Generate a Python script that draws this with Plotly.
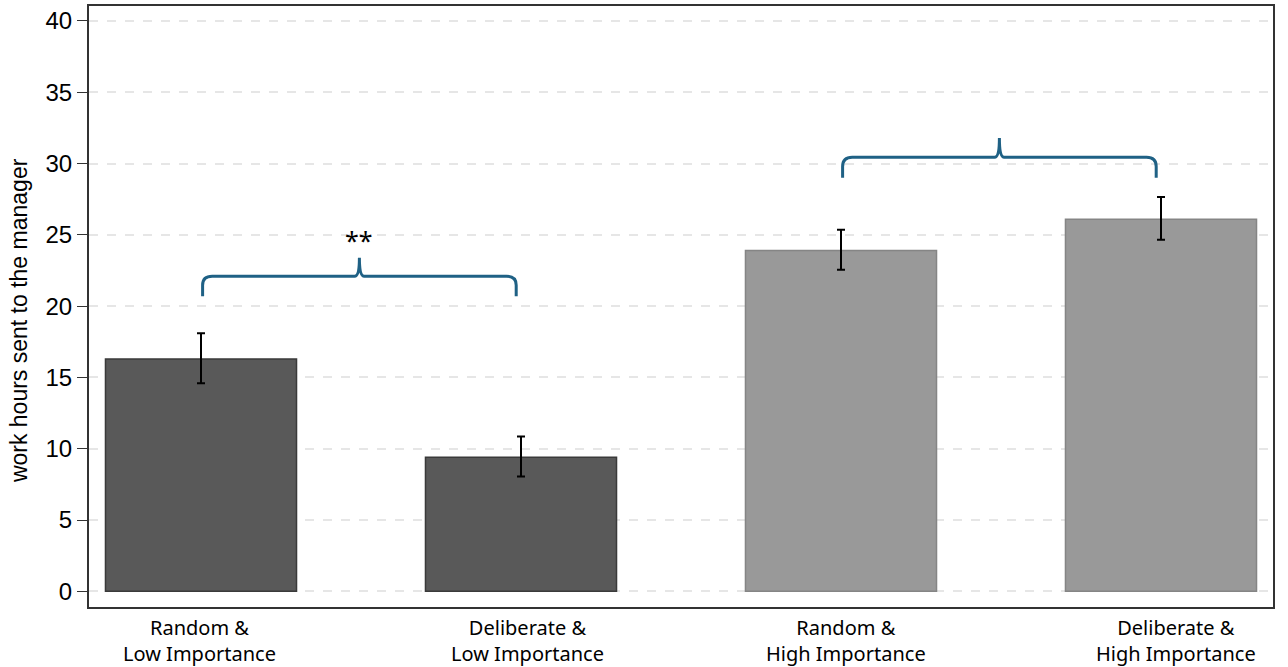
import plotly.graph_objects as go

categories = ["Random &<br>Low Importance", "Deliberate &<br>Low Importance",
              "Random &<br>High Importance", "Deliberate &<br>High Importance"]
means = [16.3, 9.4, 23.9, 26.1]
err_plus = [1.8, 1.45, 1.45, 1.55]
err_minus = [1.7, 1.35, 1.35, 1.45]
bar_colors = ["#595959", "#595959", "#999999", "#999999"]
line_colors = ["#3a3a3a", "#3a3a3a", "#858585", "#858585"]
label_shift_px = [-2, 6, 5, 15]
y_title = "work hours sent to the manager"

# brace annotations: (left category, right category, end level, bar level, tip level, label)
braces = [
    (0, 1, 20.7, 22.1, 23.4, "**"),
    (2, 3, 29.0, 30.45, 31.8, ""),
]
brace_color = "#1f6185"

xs = list(range(len(categories)))

fig = go.Figure()
fig.add_trace(go.Bar(
    x=xs, y=means, width=0.597,
    marker=dict(color=bar_colors, line=dict(color=line_colors, width=1.5)),
    error_y=dict(type="data", symmetric=False, array=err_plus, arrayminus=err_minus,
                 color="black", thickness=2, width=4),
    showlegend=False,
))

shapes = []
annotations = []
for (a, b, y_end, y_bar, y_tip, lab) in braces:
    x0, x1 = a + 0.005, b - 0.015
    xm = (x0 + x1) / 2
    dx = 0.03
    dy = (y_bar - y_end) * 0.45
    path = (f"M {x0},{y_end} L {x0},{y_bar - dy} Q {x0},{y_bar} {x0 + dx},{y_bar} "
            f"L {xm - dx * 0.5},{y_bar} Q {xm},{y_bar} {xm},{y_tip} "
            f"Q {xm},{y_bar} {xm + dx * 0.5},{y_bar} L {x1 - dx},{y_bar} "
            f"Q {x1},{y_bar} {x1},{y_bar - dy} L {x1},{y_end}")
    shapes.append(dict(type="path", path=path, xref="x", yref="y",
                       line=dict(color=brace_color, width=3)))
    if lab:
        annotations.append(dict(x=xm, y=y_tip - 0.1, xref="x", yref="y", text=lab,
                                showarrow=False, yanchor="bottom",
                                font=dict(size=25, color="black", family="Noto Sans")))

for x, txt, sh in zip(xs, categories, label_shift_px):
    annotations.append(dict(x=x, y=0, xref="x", yref="paper", text=txt, xshift=sh,
                            yshift=-5, showarrow=False, yanchor="top", align="center",
                            font=dict(family="Noto Sans", size=20, color="black")))

annotations.append(dict(x=0, y=18.95, xref="paper", yref="y", text=y_title,
                        textangle=-90, xanchor="center", yanchor="middle", xshift=-70,
                        showarrow=False,
                        font=dict(family="Liberation Sans", size=23, color="black")))

fig.update_layout(
    width=1288, height=667,
    margin=dict(l=89, r=15, t=6, b=60, autoexpand=False),
    plot_bgcolor="white", paper_bgcolor="white",
    shapes=shapes, annotations=annotations,
    xaxis=dict(range=[-0.35, 3.35], tickvals=xs, showticklabels=False,
               showgrid=False, zeroline=False, showline=True, mirror=True,
               linecolor="#333333", linewidth=2, ticks="", automargin=False),
    yaxis=dict(range=[-1.1, 41.05], tickvals=[0, 5, 10, 15, 20, 25, 30, 35, 40],
               showgrid=True, gridcolor="#e6e6e6", griddash="dash", gridwidth=1.5,
               zeroline=False, showline=True, mirror=True, linecolor="#333333",
               linewidth=2, ticks="outside", ticklen=10, tickcolor="#333333",
               automargin=False,
               tickfont=dict(family="Liberation Sans", size=24, color="black")),
)

fig.write_html("out.html", config={"displayModeBar": False},
               post_script="document.body.style.margin='0';")
